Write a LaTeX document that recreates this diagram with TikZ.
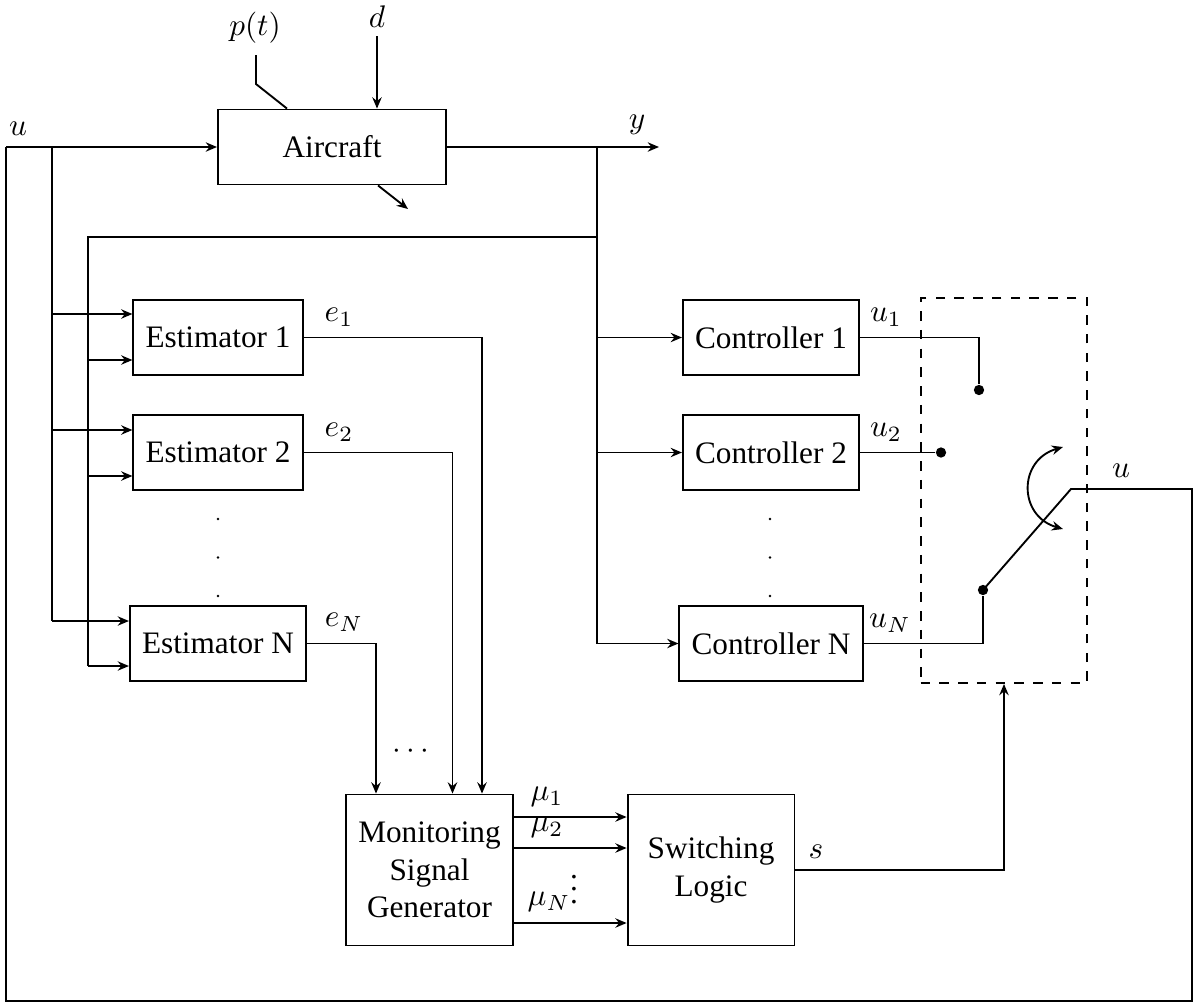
\documentclass[tikz,border=0pt]{standalone}
\usepackage{fontspec}
\setmainfont{Liberation Serif}
\usetikzlibrary{arrows.meta,calc}
\begin{document}
\begin{tikzpicture}[x=0.32pt,y=-0.32pt,
  ln/.style={line width=0.6pt},
  arr/.style={ln,-{Stealth[length=3.6pt,width=3pt,inset=1.2pt]}},
  blk/.style={draw,line width=0.6pt,inner xsep=3.9pt,inner ysep=0pt,minimum height=24pt,font=\fontsize{10}{12}\selectfont},
  bigblk/.style={blk,align=center,minimum height=48.3pt,minimum width=53.4pt},
  lbl/.style={inner sep=0pt,font=\fontsize{10}{12}\selectfont},
  dot/.style={circle,fill,inner sep=0pt,minimum size=3.3pt},
  sdot/.style={circle,fill,inner sep=0pt,minimum size=0.9pt}]
\useasboundingbox (0,0) rectangle (1198,1005);

% blocks
\node[blk,minimum width=73pt] (Air) at (332,147) {Aircraft};
\node[blk] (E1) at (218,337.5) {Estimator 1};
\node[blk] (E2) at (218,452.5) {Estimator 2};
\node[blk] (EN) at (218,643.5) {Estimator N};
\node[blk] (C1) at (771,337.5) {Controller 1};
\node[blk] (C2) at (771,452.5) {Controller 2};
\node[blk] (CN) at (771,643.5) {Controller N};
\node[bigblk] (MSG) at (429.5,870) {Monitoring\\Signal\\Generator};
\node[bigblk] (SL) at (711,870) {Switching\\Logic};
\node[draw,dashed,line width=0.6pt,minimum width=53.3pt,minimum height=123.2pt,inner sep=0pt] (SW) at (1004,490.5) {};

% switch contacts
\node[dot] (d1) at (979,390) {};
\node[dot] (d2) at (941,452.5) {};
\node[dot] (dN) at (983,590) {};

% ellipsis dots
\node[sdot] (ea) at (218,519) {};
\node[sdot] (eb) at (218,557.5) {};
\node[sdot] (ec) at (218,596) {};
\node[sdot] (ca) at (770,519) {};
\node[sdot] (cb) at (770,557.5) {};
\node[sdot] (cc) at (770,596) {};

% labels
\node[lbl] (lu) at (18,129) {$u$};
\node[lbl] (ly) at (637,125) {$y$};
\node[lbl] (lp) at (255,28) {$p(t)$};
\node[lbl] (ld) at (377,17) {$d$};
\node[lbl] (le1) at (339,317) {$e_1$};
\node[lbl] (le2) at (339,432) {$e_2$};
\node[lbl] (leN) at (344,622) {$e_N$};
\node[lbl] (lu1) at (886,317) {$u_1$};
\node[lbl] (lu2) at (886,432) {$u_2$};
\node[lbl] (luN) at (890,623) {$u_N$};
\node[lbl] (luo) at (1121,471) {$u$};
\node[lbl] (ls) at (816,852) {$s$};
\node[lbl] (lm1) at (547,797) {$\mu_1$};
\node[lbl] (lm2) at (547,828) {$\mu_2$};
\node[lbl] (lmN) at (549,902) {$\mu_N$};
\node[lbl] (lvd) at (574,880) {$\vdots$};
\node[lbl] (lcd) at (411,752) {$\cdots$};

% coordinates
\coordinate (uL) at (6,147);
\coordinate (vA) at (52,147);
\coordinate (yJ) at (597,147);
\coordinate (yOut) at (659,147);
\coordinate (yB) at (597,237);
\coordinate (vB) at (88,237);
\coordinate (pivot) at (1071,489);
\coordinate (rTop) at (1192,489);
\coordinate (rBot) at (1192,1001);
\coordinate (lBot) at (6,1001);
\coordinate (pa) at (256,55);
\coordinate (pb) at (256,84);
\coordinate (da) at (377,36);
\coordinate (oa) at (408,209);
\coordinate (ka) at (1063,447);
\coordinate (kb) at (1063,529);

% aircraft connections
\draw[arr] (uL) -- (Air.west);
\draw[ln] (Air.east) -- (yJ);
\draw[arr] (yJ) -- (yOut);
\draw[ln] (pa) -- (pb) -- (Air.north -| 287,0);
\draw[arr] (da) -- (Air.north -| da);
\draw[arr] (Air.south -| 378,0) -- (oa);

% trunks
\draw[ln] (vA) -- (vA |- 0,621);
\draw[ln] (yJ) -- (yJ |- CN.west);
\draw[ln] (yB) -- (vB) -- (vB |- 0,666);

% estimator inputs
\draw[arr] (vA |- 0,314) -- (E1.west |- 0,314);
\draw[arr] (vB |- 0,360) -- (E1.west |- 0,360);
\draw[arr] (vA |- 0,430) -- (E2.west |- 0,430);
\draw[arr] (vB |- 0,476) -- (E2.west |- 0,476);
\draw[arr] (vA |- 0,621) -- (EN.west |- 0,621);
\draw[arr] (vB |- 0,666) -- (EN.west |- 0,666);

% controller inputs
\draw[arr] (yJ |- C1.west) -- (C1.west);
\draw[arr] (yJ |- C2.west) -- (C2.west);
\draw[arr] (yJ |- CN.west) -- (CN.west);

% estimator outputs
\draw[arr] (E1.east) -| (MSG.north -| 482,0);
\draw[arr] (E2.east) -| (MSG.north -| 452.5,0);
\draw[arr] (EN.east) -| (MSG.north -| 376,0);

% monitoring outputs
\draw[arr] (MSG.east |- 0,817) -- (SL.west |- 0,817);
\draw[arr] (MSG.east |- 0,848) -- (SL.west |- 0,848);
\draw[arr] (MSG.east |- 0,923) -- (SL.west |- 0,923);

% switching logic output
\draw[arr] (SL.east) -| (SW.south);

% controller outputs to contacts
\draw[ln] (C1.east) -| (d1);
\draw[ln] (C2.east) -- (d2);
\draw[ln] (CN.east) -| (dN);

% switch blade and feedback
\draw[ln] (dN.center) -- (pivot) -- (rTop) -- (rBot) -- (lBot) -- (uL);
\draw[ln,{Stealth[length=3.6pt,width=3pt,inset=1.2pt]}-{Stealth[length=3.6pt,width=3pt,inset=1.2pt]}] (ka) .. controls (1018,460) and (1018,516) .. (kb);
\end{tikzpicture}
\end{document}
